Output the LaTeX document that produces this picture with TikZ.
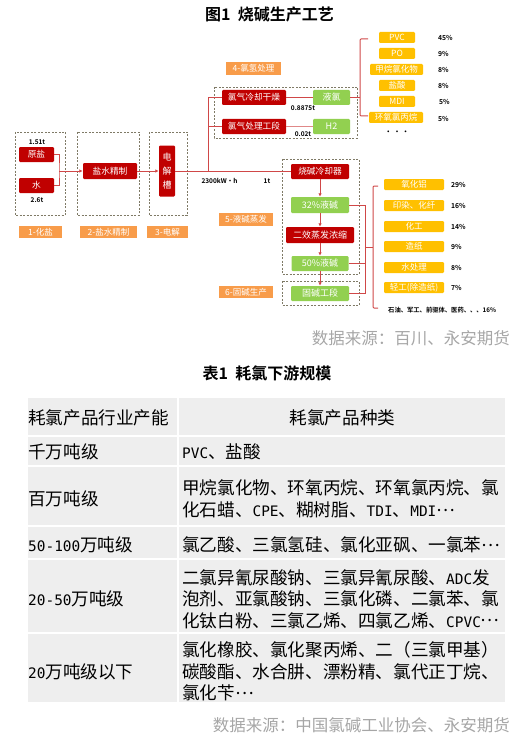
\documentclass[tikz,border=0pt]{standalone}
\usepackage{fontspec}
\setmainfont{Noto Sans CJK SC}[BoldFont={Noto Sans CJK SC Bold}]
\newfontfamily\lat{DejaVu Sans Mono}[Scale=0.82]
\usetikzlibrary{arrows.meta}
\definecolor{cred}{HTML}{C00000}
\definecolor{cgreen}{HTML}{92D050}
\definecolor{cyellow}{HTML}{FFC000}
\definecolor{corange}{HTML}{F89C4A}
\definecolor{cdash}{HTML}{7F7A66}
\definecolor{cline}{HTML}{D04848}
\definecolor{clinel}{HTML}{E08888}
\definecolor{cgraytxt}{HTML}{A6A6A6}
\definecolor{ccell}{HTML}{EEEEEE}
\newcommand{\Lt}[1]{{\lat #1}}
\newcommand{\Mdots}{\raisebox{0.3em}{…}}
\begin{document}
\begin{tikzpicture}[x=1pt,y=-1pt,
  box/.style={rounded corners=1.2pt, inner sep=0pt, text=white, font=\fontsize{8.7}{10}\selectfont},
  rbox/.style={box, fill=cred},
  gbox/.style={box, fill=cgreen, font=\fontsize{9}{10}\selectfont},
  ybox/.style={box, fill=cyellow, minimum height=11pt, font=\fontsize{8.5}{9}\selectfont},
  obox/.style={fill=corange, inner sep=0pt, text=white, font=\fontsize{8.5}{10}\selectfont},
  dbox/.style={draw=cdash, dash pattern=on 2pt off 1.5pt, line width=0.9pt},
  ln/.style={draw=cline, line width=1pt},
  arr/.style={ln, -{Latex[length=3.5pt,width=3.5pt]}},
  num/.style={font=\bfseries\fontsize{6.5}{7}\selectfont, inner sep=0pt},
  pct/.style={font=\bfseries\fontsize{6.8}{7}\selectfont, inner sep=0pt, anchor=west},
  ttl/.style={font=\bfseries\fontsize{16}{18}\selectfont, inner sep=0pt},
  src/.style={font=\fontsize{16.5}{18}\selectfont, text=cgraytxt, inner sep=0pt, anchor=east},
  tcell/.style={fill=ccell},
  ttxt/.style={font=\fontsize{17.6}{21.5}\selectfont, inner sep=0pt, anchor=west, align=left},
]
\useasboundingbox (0,0) rectangle (532,741);

% ---------- Figure title ----------
\node[ttl] (t1) at (269.5,14) {图1\ \ 烧碱生产工艺};

% ---------- dashed boxes ----------
\draw[dbox] (15,132) rectangle (65,215);
\draw[dbox] (77,132) rectangle (139,215);
\draw[dbox] (149,132) rectangle (187,215);
\draw[dbox] (214,87) rectangle (357,138);
\draw[dbox] (282,159) rectangle (359,274);
\draw[dbox] (282,281) rectangle (359,305);

% ---------- orange labels ----------
\node[obox, minimum width=43pt, minimum height=12pt] (o1) at (40.5,232) {1-化盐};
\node[obox, minimum width=57pt, minimum height=12pt] (o2) at (108.5,232) {2-盐水精制};
\node[obox, minimum width=41pt, minimum height=12pt] (o3) at (167.5,232) {3-电解};
\node[obox, minimum width=55pt, minimum height=13pt] (o4) at (253.5,68.5) {4-氯氢处理};
\node[obox, minimum width=54pt, minimum height=13pt] (o5) at (246,219.5) {5-液碱蒸发};
\node[obox, minimum width=54pt, minimum height=12pt] (o6) at (246,292) {6-固碱生产};

% ---------- left part ----------
\node[num] (n151) at (37,142) {1.51t};
\node[rbox, minimum width=35pt, minimum height=15pt] (ys) at (36.5,154.5) {原盐};
\node[rbox, minimum width=35pt, minimum height=15pt] (sw) at (36.5,185.5) {水};
\node[num] (n26) at (37,200) {2.6t};
\node[rbox, minimum width=54pt, minimum height=16pt] (js) at (110,171) {盐水精制};
\node[rbox, minimum width=16pt, minimum height=51pt, align=center, font=\fontsize{9}{14}\selectfont] (dj) at (167,171) {电\\解\\槽};

\coordinate (jA) at (59,171);
\draw[ln] (ys.east) -| (jA) |- (sw.east);
\draw[arr] (jA) -- (js.west);
\draw[arr] (js.east) -- (dj.west);

% ---------- chlorine / hydrogen ----------
\node[rbox, minimum width=64pt, minimum height=15pt] (lq1) at (254,97.5) {氯气冷却干燥};
\node[rbox, minimum width=64pt, minimum height=15pt] (lq2) at (254,126.5) {氯气处理工段};
\node[gbox, minimum width=37pt, minimum height=15pt] (yl) at (331.5,97.5) {液氯};
\node[gbox, minimum width=37pt, minimum height=15pt] (h2) at (331.5,126.5) {H2};
\node[num] (n08) at (303,108) {0.8875t};
\node[num] (n002) at (303,134) {0.02t};

\node[rbox, minimum width=58pt, minimum height=15pt] (sj) at (320,171.5) {烧碱冷却器};
\coordinate (tA) at (208,171.5);
\coordinate (tB) at (208,126.5);
\draw[ln] (dj.east |- sj.west) -- (sj.west);
\draw[ln] (tA) |- (lq1.west);
\draw[ln] (tB) -- (lq2.west);
\draw[ln] (lq1.east) -- (yl.west);
\draw[draw=clinel, line width=1pt] (lq2.east) -- (h2.west);
\node[num] (nkw) at (219.5,181) {2300kW·h};
\node[num] (n1t) at (267,181) {1t};

% bracket to chlorine products
\coordinate (bA) at (360,97.5);
\draw[ln] (yl.east) -- (bA);
\draw[ln, rounded corners=1pt] (368,39) -- (360,39) -- (360,116) -- (368,116);

\node[ybox, minimum width=36pt] (p1) at (397,37.5) {PVC};
\node[ybox, minimum width=36pt] (p2) at (397,53.5) {PO};
\node[ybox, minimum width=53pt] (p3) at (396.5,69.5) {甲烷氯化物};
\node[ybox, minimum width=36pt] (p4) at (397,85.5) {盐酸};
\node[ybox, minimum width=36pt] (p5) at (397,101.5) {MDI};
\node[ybox, minimum width=54pt] (p6) at (396,117.5) {环氧氯丙烷};
\node[font=\bfseries\fontsize{7}{8}\selectfont, inner sep=0pt] (pdots) at (397,133) {·\ ·\ ·};
\node[pct] (q1) at (438,38) {45\%};
\node[pct] (q2) at (438,53.5) {9\%};
\node[pct] (q3) at (438,69.5) {8\%};
\node[pct] (q4) at (438,85.5) {8\%};
\node[pct] (q5) at (439,101.5) {5\%};
\node[pct] (q6) at (438,118.5) {5\%};

% ---------- caustic soda ----------
\node[gbox, minimum width=58pt, minimum height=16pt] (l32) at (320,205) {32\%液碱};
\node[rbox, minimum width=68pt, minimum height=16pt, font=\fontsize{9}{10}\selectfont] (ex) at (320,235) {二效蒸发浓缩};
\node[gbox, minimum width=57pt, minimum height=15pt] (l50) at (320,263.5) {50\%液碱};
\node[gbox, minimum width=58pt, minimum height=15pt] (gj) at (320,293.5) {固碱工段};
\draw[arr] (sj.south) -- (l32.north);
\draw[arr] (l32.south) -- (ex.north);
\draw[arr] (ex.south) -- (l50.north);
\draw[arr] (l50.south) -- (gj.north);

\coordinate (cA) at (365,205);
\coordinate (cB) at (365,247);
\coordinate (cC) at (373,247);
\draw[ln] (l32.east) -- (cA) |- (gj.east);
\draw[ln] (l50.east) -- (l50.east -| cA);
\draw[ln] (cB) -- (cC);
\draw[ln, rounded corners=1pt] (378,186) -- (373,186) -- (373,308) -- (378,308);

\node[ybox, minimum width=60pt] (s1) at (414,184.5) {氧化铝};
\node[ybox, minimum width=60pt] (s2) at (414,205.5) {印染、化纤};
\node[ybox, minimum width=60pt] (s3) at (414,226.5) {化工};
\node[ybox, minimum width=60pt] (s4) at (414,246.5) {造纸};
\node[ybox, minimum width=60pt] (s5) at (414,267.5) {水处理};
\node[ybox, minimum width=60pt] (s6) at (414,287.5) {轻工(除造纸)};
\node[pct] (r1) at (451,185) {29\%};
\node[pct] (r2) at (451,206) {16\%};
\node[pct] (r3) at (451,227) {14\%};
\node[pct] (r4) at (451,247) {9\%};
\node[pct] (r5) at (451,268) {8\%};
\node[pct] (r6) at (451,288) {7\%};
\node[pct, font=\bfseries\fontsize{6.3}{7}\selectfont] (r7) at (388,310) {石油、军工、前驱体、医药、、、16\%};

\node[src] (src1) at (510,338) {数据来源：百川、永安期货};

% ---------- table ----------
\node[ttl] (t2) at (267,373) {表1\ \ 耗氯下游规模};

\fill[tcell] (28,398) rectangle (177,435);
\fill[tcell] (179,398) rectangle (505,435);
\fill[tcell] (28,437) rectangle (177,465);
\fill[tcell] (179,437) rectangle (505,465);
\fill[tcell] (28,467) rectangle (177,525);
\fill[tcell] (179,467) rectangle (505,525);
\fill[tcell] (28,527) rectangle (177,558);
\fill[tcell] (179,527) rectangle (505,558);
\fill[tcell] (28,560) rectangle (177,632);
\fill[tcell] (179,560) rectangle (505,632);
\fill[tcell] (28,634) rectangle (177,702);
\fill[tcell] (179,634) rectangle (505,702);

\node[ttxt] (h1) at (28,418) {耗氯产品行业产能};
\node[ttxt, anchor=center] (h2t) at (342.5,418) {耗氯产品种类};
\node[ttxt] (a1) at (28,452) {千万吨级};
\node[ttxt] (b1) at (182,452) {\Lt{PVC}、盐酸};
\node[ttxt] (a2) at (28,499) {百万吨级};
\node[ttxt] (b2) at (182,499) {甲烷氯化物、环氧丙烷、环氧氯丙烷、氯\\化石蜡、\Lt{CPE}、糊树脂、\Lt{TDI}、\Lt{MDI}\Mdots};
\node[ttxt] (a3) at (28,545) {\Lt{50-100}万吨级};
\node[ttxt] (b3) at (182,545) {氯乙酸、三氯氢硅、氯化亚砜、一氯苯\Mdots};
\node[ttxt] (a4) at (28,599) {\Lt{20-50}万吨级};
\node[ttxt] (b4) at (182,599) {二氯异氰尿酸钠、三氯异氰尿酸、\Lt{ADC}发\\泡剂、亚氯酸钠、三氯化磷、二氯苯、氯\\化钛白粉、三氯乙烯、四氯乙烯、\Lt{CPVC}\Mdots};
\node[ttxt] (a5) at (28,671.5) {\Lt{20}万吨级以下};
\node[ttxt] (b5) at (182,671.5) {氯化橡胶、氯化聚丙烯、二（三氯甲基）\\碳酸酯、水合肼、漂粉精、氯代正丁烷、\\氯化苄\Mdots};

\node[src] (src2) at (510,725) {数据来源：中国氯碱工业协会、永安期货};
\end{tikzpicture}
\end{document}
